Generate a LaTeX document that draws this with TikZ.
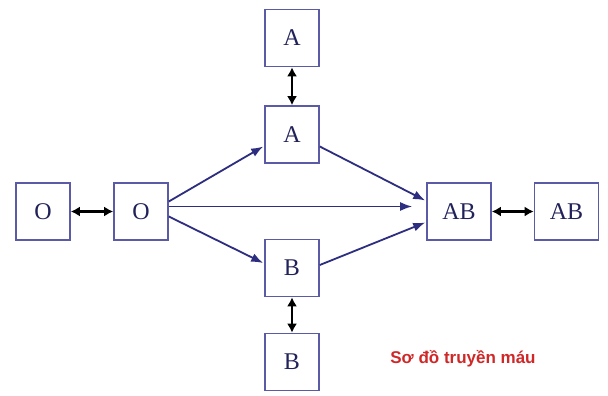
\documentclass[tikz,border=0pt]{standalone}
\usepackage{fontspec}
\setmainfont{Liberation Serif}
\newfontfamily\labelfont{Liberation Sans}
\usetikzlibrary{arrows.meta}
\definecolor{boxline}{HTML}{5A5AA6}
\definecolor{boxtext}{HTML}{22225A}
\definecolor{flow}{HTML}{2E2E80}
\definecolor{caption}{HTML}{D02828}
\tikzset{
  group/.style={draw=boxline, line width=1.6pt, fill=white, inner sep=0pt,
    minimum width=54pt, minimum height=57pt, text=boxtext,
    font=\fontsize{24}{24}\selectfont},
  widegroup/.style={group, minimum width=64pt},
  flowarrow/.style={draw=flow, line width=1.8pt, -{Latex[length=12pt,width=9pt]}},
  swaparrow/.style={draw=black, line width=2.4pt, {Latex[length=9pt,width=10pt]}-{Latex[length=9pt,width=10pt]}}
}
\begin{document}
\begin{tikzpicture}[x=1pt,y=-1pt]
  \useasboundingbox[fill=white] (0,0) rectangle (608,396);

  % blood groups
  \node[group] (O1) at (43,211.5) {O};
  \node[group] (O2) at (141,211.5) {O};
  \node[group] (A1) at (292,38) {A};
  \node[group] (A2) at (292,134.5) {A};
  \node[group] (B2) at (292,268) {B};
  \node[group] (B1) at (292,362) {B};
  \node[widegroup] (AB2) at (459,211.5) {AB};
  \node[widegroup] (AB1) at (566.5,211.5) {AB};

  % same-group exchanges
  \draw[swaparrow] (O1.east) -- (O2.west);
  \draw[swaparrow] (A1.south) -- (A2.north);
  \draw[swaparrow] (B2.south) -- (B1.north);
  \draw[swaparrow] (AB2.east) -- (AB1.west);

  % donor to recipient
  \draw[flowarrow] ([yshift=10pt]O2.east) -- ([xshift=-1pt,yshift=-12pt]A2.west);
  \draw[flowarrow] ([yshift=5pt]O2.east) -- ([xshift=-14pt,yshift=5pt]AB2.west);
  \draw[flowarrow] ([yshift=-5pt]O2.east) -- ([xshift=-1pt,yshift=5pt]B2.west);
  \draw[flowarrow] ([yshift=-12pt]A2.east) -- ([xshift=-1pt,yshift=11pt]AB2.west);
  \draw[flowarrow] ([yshift=3pt]B2.east) -- ([xshift=-1pt,yshift=-11pt]AB2.west);

  % caption
  \node[text=caption, font=\labelfont\bfseries\fontsize{17}{17}\selectfont, inner sep=0pt]
    (title) at (463,359) {Sơ đồ truyền máu};
\end{tikzpicture}
\end{document}
